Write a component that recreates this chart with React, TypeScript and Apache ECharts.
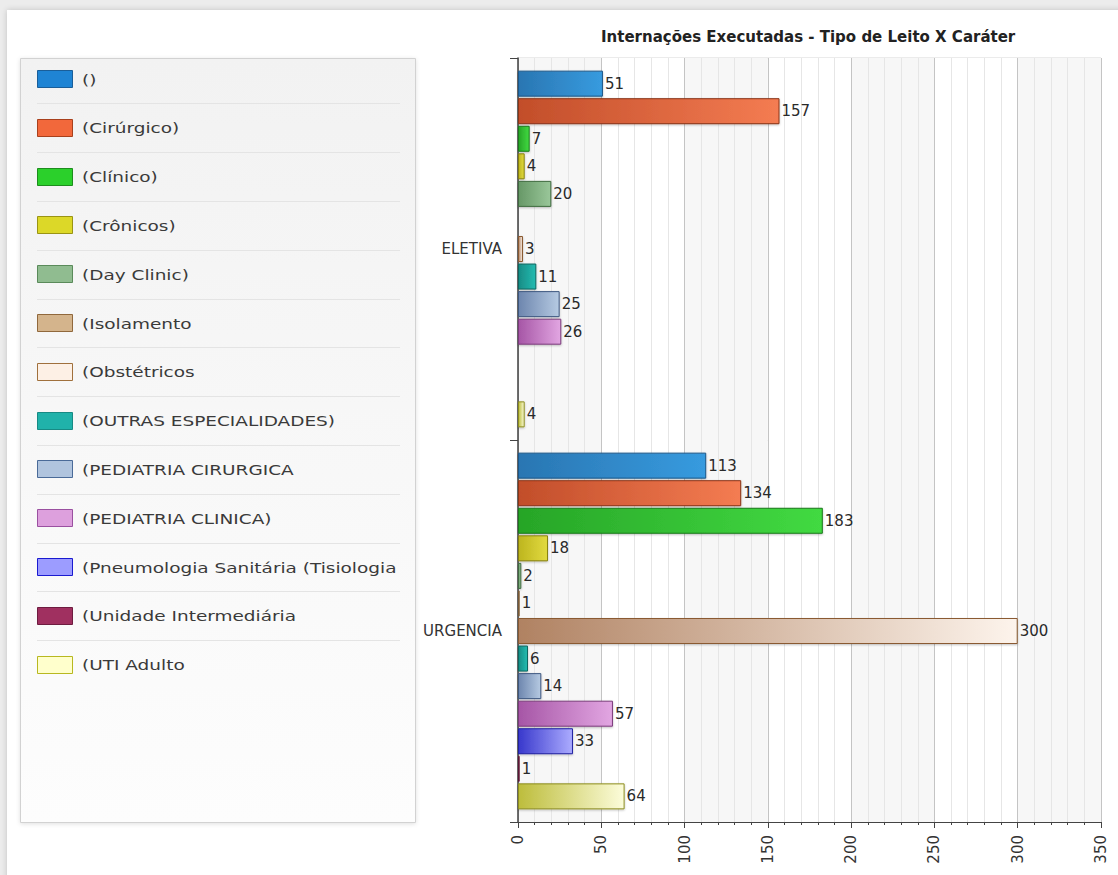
import { useEffect, useRef } from 'react';
import * as echarts from 'echarts';

const titleText = 'Internações Executadas - Tipo de Leito X Caráter';
const categories = ['ELETIVA', 'URGENCIA'];
const seriesNames = [
  '()',
  '(Cirúrgico)',
  '(Clínico)',
  '(Crônicos)',
  '(Day Clinic)',
  '(Isolamento',
  '(Obstétricos',
  '(OUTRAS ESPECIALIDADES)',
  '(PEDIATRIA CIRURGICA',
  '(PEDIATRIA CLINICA)',
  '(Pneumologia Sanitária (Tisiologia',
  '(Unidade Intermediária',
  '(UTI Adulto',
];
const eletivaValues: (number | null)[] = [51, 157, 7, 4, 20, null, 3, 11, 25, 26, null, null, 4];
const urgenciaValues: (number | null)[] = [113, 134, 183, 18, 2, 1, 300, 6, 14, 57, 33, 1, 64];
const axisMin = 0;
const axisMax = 350;
const axisInterval = 50;

const barStart = ['#2a76b2', '#c24e2a', '#27a527', '#bdb51e', '#679867', '#ad875a', '#b08262', '#178c85', '#6d86ae', '#a656a6', '#3838cc', '#84204e', '#bdbd3c'];
const barEnd = ['#379bdf', '#f47c52', '#42da42', '#e2da40', '#9ac79a', '#dbbb92', '#fdf4ec', '#24bcb1', '#b6cae2', '#e2a6e2', '#acacff', '#b24474', '#fcfcda'];
const barBorder = ['#1c5788', '#8a3418', '#1a781a', '#868010', '#3f6b3f', '#7a5a34', '#8a5a30', '#0e6660', '#3e5880', '#7a3a7a', '#2020a0', '#5c1634', '#8e8e1e'];
const swatchFill = ['#1f84d4', '#f2683b', '#2bd02b', '#dcd828', '#90bc90', '#d4b48c', '#fdf0e5', '#20b2aa', '#b0c4de', '#dda0dd', '#9c9cff', '#a03060', '#ffffcc'];
const swatchBorder = ['#1a5e99', '#a8401c', '#1d8d1d', '#9a9414', '#5a8a5a', '#90683c', '#a0703c', '#178a84', '#4a6a98', '#9a50a0', '#1a1ad0', '#6e1c40', '#b8b820'];

const FONT = 'DejaVu Sans';

function buildOption() {
  const legendTop = 79;
  const legendStep = 48.8;
  const graphics: any[] = [
    {
      type: 'rect',
      shape: { x: 20.5, y: 58.5, width: 395, height: 764 },
      style: {
        fill: new echarts.graphic.LinearGradient(0, 0, 0, 1, [
          { offset: 0, color: '#f2f2f2' },
          { offset: 1, color: '#fdfdfd' },
        ]),
        stroke: '#d2d2d2',
        lineWidth: 1,
        shadowBlur: 4,
        shadowColor: 'rgba(0,0,0,0.12)',
        shadowOffsetY: 1,
      },
      z: 0,
    },
  ];
  seriesNames.forEach((name, i) => {
    const cy = legendTop + legendStep * i;
    if (i > 0) {
      graphics.push({
        type: 'line',
        shape: { x1: 37, y1: Math.round(cy - legendStep / 2) + 0.5, x2: 400, y2: Math.round(cy - legendStep / 2) + 0.5 },
        style: { stroke: '#e4e4e4', lineWidth: 1 },
        z: 1,
      });
    }
    graphics.push({
      type: 'rect',
      shape: { x: 37.5, y: Math.round(cy - 9) + 0.5, width: 35, height: 17 },
      style: { fill: swatchFill[i], stroke: swatchBorder[i], lineWidth: 1 },
      z: 2,
    });
    graphics.push({
      type: 'text',
      x: 82,
      y: cy + 1,
      scaleX: 1.32,
      style: {
        text: name,
        fontFamily: FONT,
        fontSize: 14,
        fill: '#3a3a3a',
        textVerticalAlign: 'middle',
        verticalAlign: 'middle',
        width: 242,
        overflow: 'truncate',
        ellipsis: '',
      },
      z: 2,
    });
  });

  return {
    animation: false,
    textStyle: { fontFamily: FONT },
    title: {
      text: titleText,
      left: 596,
      top: 24,
      padding: 5,
      textStyle: { fontFamily: FONT, fontSize: 15, fontWeight: 'bold', color: '#222' },
    },
    grid: {
      left: 518,
      right: 17,
      top: 58,
      bottom: 53,
      show: true,
      borderColor: '#d6d6d6',
      borderWidth: 1,
      backgroundColor: 'transparent',
    },
    xAxis: {
      type: 'value',
      min: axisMin,
      max: axisMax,
      interval: axisInterval,
      axisLine: { show: true, lineStyle: { color: '#444', width: 1 } },
      axisTick: { show: true, length: 6, lineStyle: { color: '#444' } },
      minorTick: { show: true, splitNumber: 5, length: 3, lineStyle: { color: '#444' } },
      splitLine: { show: true, lineStyle: { color: '#c4c4c4', width: 1 } },
      minorSplitLine: { show: true, lineStyle: { color: '#e6e6e6', width: 1 } },
      splitArea: { show: true, areaStyle: { color: ['#f7f7f7', '#ffffff'] } },
      axisLabel: { rotate: 90, fontSize: 15, color: '#333', margin: 13, fontFamily: FONT },
    },
    yAxis: {
      type: 'category',
      inverse: true,
      data: categories,
      axisLine: { show: true, lineStyle: { color: '#444', width: 1.5 } },
      axisTick: { show: true, length: 8, alignWithLabel: false, lineStyle: { color: '#444' } },
      axisLabel: { fontSize: 15, color: '#333', margin: 16, fontFamily: FONT },
      splitLine: { show: true, lineStyle: { color: '#c4c4c4' } },
    },
    graphic: { elements: graphics },
    series: seriesNames.map((name, i) => ({
      name,
      type: 'bar',
      barWidth: 26,
      barGap: '6%',
      data: [eletivaValues[i], urgenciaValues[i]].map((v) => (v === null ? '-' : v)),
      itemStyle: {
        color: new echarts.graphic.LinearGradient(0, 0, 1, 0, [
          { offset: 0, color: barStart[i] },
          { offset: 1, color: barEnd[i] },
        ]),
        borderColor: barBorder[i],
        borderWidth: 1,
        shadowBlur: 2,
        shadowOffsetY: 1,
        shadowColor: 'rgba(0,0,0,0.25)',
      },
      label: {
        show: true,
        position: 'right',
        distance: 2,
        color: '#2a2a2a',
        fontSize: 15,
        fontFamily: FONT,
      },
    })),
  };
}

export default function App() {
  const ref = useRef<HTMLDivElement>(null);
  useEffect(() => {
    if (!ref.current) return;
    const chart = echarts.init(ref.current, null, { renderer: 'svg' });
    chart.setOption(buildOption() as any);
    return () => chart.dispose();
  }, []);
  return (
    <div style={{ position: 'fixed', left: 0, top: 0, width: 1118, height: 875, background: '#ececec', overflow: 'hidden' }}>
      <div
        style={{
          position: 'absolute',
          left: 7,
          top: 10,
          width: 1120,
          height: 880,
          background: '#ffffff',
          boxShadow: '0 0 6px rgba(0,0,0,0.18)',
        }}
      />
      <div ref={ref} style={{ position: 'absolute', left: 0, top: 0, width: 1118, height: 875 }} />
    </div>
  );
}
